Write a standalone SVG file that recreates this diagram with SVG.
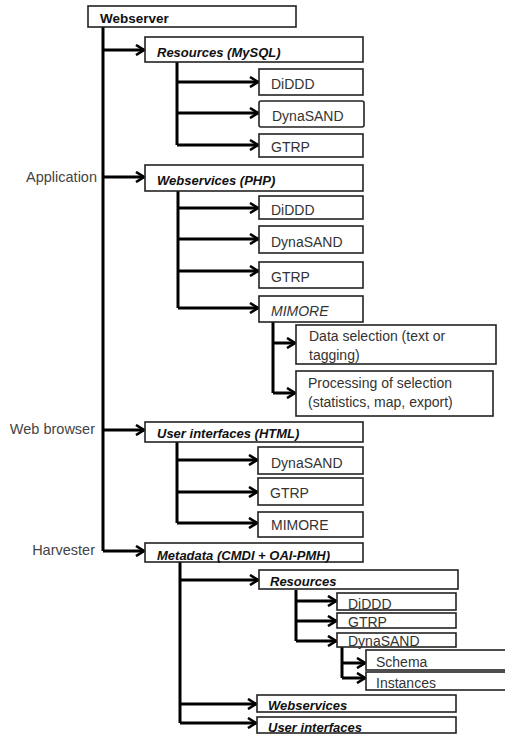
<svg xmlns="http://www.w3.org/2000/svg" width="505" height="734" viewBox="0 0 505 734">
<style>
.bx{fill:#fff;stroke:#222;stroke-width:1.6}
.t{font-family:"Liberation Sans",Arial,sans-serif;font-size:14px;fill:#333}
.b{font-weight:bold;fill:#111;font-size:13.5px}
.bi{font-weight:bold;font-style:italic;fill:#111;font-size:13px}
.i{font-style:italic}
.lab{font-family:"Liberation Sans",Arial,sans-serif;font-size:14.5px;fill:#444;text-anchor:end}
.c{fill:none;stroke:#000;stroke-width:3;marker-end:url(#ah)}
.v{fill:none;stroke:#000;stroke-width:3}
</style>
<defs>
<marker id="ah" viewBox="0 0 10 12" refX="9" refY="6" markerWidth="10" markerHeight="12" markerUnits="userSpaceOnUse" orient="auto">
<path d="M1,1 L9,6 L1,11" fill="none" stroke="#000" stroke-width="2.6"/>
</marker>
</defs>
<text class="lab" x="97" y="182">Application</text>
<text class="lab" x="95" y="434">Web browser</text>
<text class="lab" x="95" y="555">Harvester</text>
<g id="connectors">
<path class="v" d="M103,27 V551"/>
<path class="c" d="M103,50 H144"/>
<path class="c" d="M103,177 H144"/>
<path class="c" d="M103,430 H144"/>
<path class="c" d="M103,551 H144"/>
<path class="v" d="M177,62 V145"/>
<path class="c" d="M177,82 H258"/>
<path class="c" d="M177,113 H258"/>
<path class="c" d="M177,145 H258"/>
<path class="v" d="M178,191 V308"/>
<path class="c" d="M178,208 H258"/>
<path class="c" d="M178,239 H258"/>
<path class="c" d="M178,271 H258"/>
<path class="c" d="M178,308 H258"/>
<path class="v" d="M273,322 V393"/>
<path class="c" d="M273,343 H295"/>
<path class="c" d="M273,393 H295"/>
<path class="v" d="M177,442 V523"/>
<path class="c" d="M177,460 H257"/>
<path class="c" d="M177,492 H257"/>
<path class="c" d="M177,523 H257"/>
<path class="v" d="M180,562 V723"/>
<path class="c" d="M180,580 H258"/>
<path class="c" d="M180,704 H256"/>
<path class="c" d="M180,723 H256"/>
<path class="v" d="M296,590 V641"/>
<path class="c" d="M296,601 H336"/>
<path class="c" d="M296,621 H336"/>
<path class="c" d="M296,641 H336"/>
<path class="v" d="M342,647 V678"/>
<path class="c" d="M342,663 H365"/>
<path class="c" d="M342,678 H365"/>
</g>
<g id="webserver"><rect class="bx" x="88" y="6" width="208" height="21"/><text class="t b" x="100" y="23">Webserver</text></g>
<g id="res-mysql"><rect class="bx" x="145" y="37" width="218" height="25"/><text class="t bi" x="157" y="57">Resources (MySQL)</text></g>
<g id="res-diddd"><rect class="bx" x="259" y="69" width="104" height="26"/><text class="t" x="271" y="89">DiDDD</text></g>
<g id="res-dynasand"><rect class="bx" x="259" y="101" width="105" height="26" rx="2"/><text class="t" x="272" y="121">DynaSAND</text></g>
<g id="res-gtrp"><rect class="bx" x="259" y="134" width="104" height="23"/><text class="t" x="271" y="152">GTRP</text></g>
<g id="ws-php"><rect class="bx" x="145" y="165" width="218" height="26"/><text class="t bi" x="157" y="185">Webservices (PHP)</text></g>
<g id="ws-diddd"><rect class="bx" x="259" y="196" width="104" height="23"/><text class="t" x="271" y="215">DiDDD</text></g>
<g id="ws-dynasand"><rect class="bx" x="259" y="226" width="104" height="27"/><text class="t" x="271" y="247">DynaSAND</text></g>
<g id="ws-gtrp"><rect class="bx" x="259" y="262" width="104" height="26"/><text class="t" x="271" y="282">GTRP</text></g>
<g id="ws-mimore"><rect class="bx" x="259" y="296" width="104" height="26"/><text class="t i" x="271" y="316">MIMORE</text></g>
<g id="data-selection"><rect class="bx" x="296" y="325" width="200" height="39"/><text class="t" x="309" y="341">Data selection (text or</text><text class="t" x="309" y="360">tagging)</text></g>
<g id="processing"><rect class="bx" x="296" y="371" width="197" height="45"/><text class="t" x="308" y="388">Processing of selection</text><text class="t" x="308" y="407">(statistics, map, export)</text></g>
<g id="ui-html"><rect class="bx" x="145" y="422" width="218" height="20"/><text class="t bi" x="157" y="438">User interfaces (HTML)</text></g>
<g id="ui-dynasand"><rect class="bx" x="258" y="447" width="105" height="27"/><text class="t" x="271" y="468">DynaSAND</text></g>
<g id="ui-gtrp"><rect class="bx" x="258" y="478" width="105" height="27"/><text class="t" x="270" y="498">GTRP</text></g>
<g id="ui-mimore"><rect class="bx" x="258" y="512" width="105" height="25"/><text class="t" x="271" y="530">MIMORE</text></g>
<g id="metadata"><rect class="bx" x="145" y="543" width="218" height="19"/><text class="t bi" x="157" y="560">Metadata (CMDI + OAI-PMH)</text></g>
<g id="md-resources"><rect class="bx" x="259" y="570" width="199" height="19"/><text class="t bi" x="270" y="586">Resources</text></g>
<g id="md-diddd"><rect class="bx" x="337" y="593" width="119" height="17"/><text class="t" x="348" y="609">DiDDD</text></g>
<g id="md-gtrp"><rect class="bx" x="337" y="613" width="119" height="15"/><text class="t" x="348" y="627">GTRP</text></g>
<g id="md-dynasand"><rect class="bx" x="337" y="633" width="119" height="14"/><text class="t" x="348" y="646">DynaSAND</text></g>
<g id="md-schema"><rect class="bx" x="366" y="650" width="146" height="20"/><text class="t" x="376" y="667">Schema</text></g>
<g id="md-instances"><rect class="bx" x="366" y="672" width="146" height="18"/><text class="t" x="376" y="688">Instances</text></g>
<g id="md-webservices"><rect class="bx" x="257" y="695" width="199" height="17"/><text class="t bi" x="268" y="710">Webservices</text></g>
<g id="md-ui"><rect class="bx" x="257" y="717" width="199" height="16"/><text class="t bi" x="268" y="732">User interfaces</text></g>
</svg>
